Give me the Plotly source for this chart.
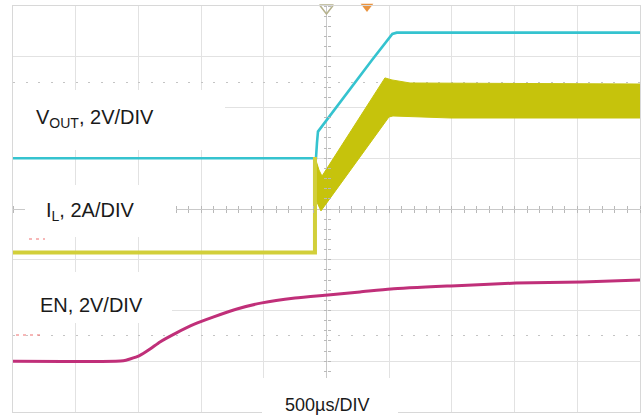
import plotly.graph_objects as go

# ---------------- data (time in microseconds, 500 us/div) ----------------
# V_OUT (V), 2 V/div
t_vout = [-2500, -84, -76, -68, 363, 500, 525, 560, 2500]
vout_v = [0, 0, 0.6, 1.05, 3.87, 4.77, 4.90, 4.95, 4.95]

# I_L (A), 2 A/div : baseline + start spike
t_il_base = [-2500, -92, -92]
il_base_a = [0, 0, 3.76]
# I_L switching ripple envelope
band_upper_t = [-92, -60, -36, 466, 522, 666, 2500]
band_upper_a = [3.76, 3.25, 3.01, 6.88, 6.80, 6.68, 6.64]
band_lower_t = [-84, -44, 498, 530, 993, 2500]
band_lower_a = [2.07, 1.64, 5.34, 5.38, 5.30, 5.30]

# EN (V), 2 V/div
t_en = [-2500, -1680, -1620, -1567, -1495, -1407, -1328, -1200, -1049, -905, -714, -514,
        -251, 12, 267, 514, 993, 1511, 2038, 2500]
en_v = [0, 0, 0.02, 0.09, 0.21, 0.48, 0.76, 1.11, 1.47, 1.74, 2.06, 2.30,
        2.49, 2.61, 2.73, 2.85, 2.97, 3.08, 3.12, 3.20]

# channel settings (divisions of the zero level, volts/amps per div)
vout_zero_div, vout_scale = 1.0, 2.0
il_zero_div, il_scale = -0.857, 2.0
en_zero_div, en_scale = -3.0, 2.0

# scope indicator markers
trig_pos_t = [0]
trig_marker_t = [323]
trig_level_div = [2.9]

W, H = 643, 416
ML, MR, MT, MB = 13, 3, 6, 4
NX, NY = 10, 4

def ch_range(zero_div, scale):
    return [(-NY - zero_div) * scale, (NY - zero_div) * scale]

grid_col = "#e2e2e2"
center_col = "#c9c9c9"
tick_col = "#b9b9b9"

fig = go.Figure()

CYAN = "#35c3cf"
YEL_BAND = "#c6c30c"
YEL_LINE = "#d2cf3a"
MAG = "#c02f79"

fig.add_trace(go.Scatter(
    x=band_upper_t + band_lower_t[::-1], y=band_upper_a + band_lower_a[::-1],
    yaxis="y3", mode="lines", fill="toself", fillcolor=YEL_BAND,
    line=dict(color=YEL_BAND, width=1), hoverinfo="skip"))
fig.add_trace(go.Scatter(x=t_il_base, y=il_base_a, yaxis="y3", mode="lines",
                         line=dict(color=YEL_LINE, width=4)))
fig.add_trace(go.Scatter(x=t_vout, y=vout_v, yaxis="y2", mode="lines",
                         line=dict(color=CYAN, width=2.6)))
fig.add_trace(go.Scatter(x=t_en, y=en_v, yaxis="y4", mode="lines",
                         line=dict(color=MAG, width=3, shape="spline", smoothing=0.6)))

# channel ground markers on left edge
for yax, col in (("y2", "#e0383c"), ("y3", "#4050c0"), ("y4", "#30c0a0")):
    fig.add_trace(go.Scatter(x=[-2545], y=[0], yaxis=yax, mode="markers",
                             marker=dict(symbol="triangle-right", size=6, color=col),
                             cliponaxis=False))

# top markers
fig.add_trace(go.Scatter(x=trig_pos_t, y=[3.96], mode="markers", cliponaxis=False,
                         marker=dict(symbol="triangle-down-open", size=12,
                                     color="#b5b18c", line=dict(width=1.5, color="#b5b18c"))))
fig.add_trace(go.Scatter(x=trig_marker_t, y=[3.99], mode="markers", cliponaxis=False,
                         marker=dict(symbol="triangle-down", size=11, color="#ea9440")))
fig.add_trace(go.Scatter(x=[2512], y=trig_level_div, mode="markers", cliponaxis=False,
                         marker=dict(symbol="diamond", size=15, color="#e1222c")))

fig.update_layout(
    width=W, height=H, margin=dict(l=ML, r=MR, t=MT, b=MB),
    paper_bgcolor="white", plot_bgcolor="white", showlegend=False, hovermode=False,
    xaxis=dict(range=[-2500, 2500], dtick=500, tick0=0, showgrid=True, gridcolor=grid_col,
               gridwidth=1, zeroline=True, zerolinecolor=center_col, zerolinewidth=1,
               showticklabels=False, ticks="", showline=True, linecolor="#d8d8d8",
               mirror=True, fixedrange=True),
    yaxis=dict(range=[-NY, NY], dtick=1, tick0=0, showgrid=True, gridcolor=grid_col,
               gridwidth=1, zeroline=True, zerolinecolor=center_col, zerolinewidth=1,
               showticklabels=False, ticks="", showline=True, linecolor="#d8d8d8",
               mirror=True),
    yaxis2=dict(overlaying="y", range=ch_range(vout_zero_div, vout_scale), visible=False),
    yaxis3=dict(overlaying="y", range=ch_range(il_zero_div, il_scale), visible=False),
    yaxis4=dict(overlaying="y", range=ch_range(en_zero_div, en_scale), visible=False),
    yaxis5=dict(overlaying="y", anchor="free", position=0.5, side="left", range=[-NY, NY],
                dtick=0.2, tick0=0, ticks="outside", ticklen=3, tickcolor=tick_col,
                showgrid=False, zeroline=False, showticklabels=False, showline=False),
    yaxis6=dict(overlaying="y", anchor="free", position=0.5, side="right", range=[-NY, NY],
                dtick=0.2, tick0=0, ticks="outside", ticklen=3, tickcolor=tick_col,
                showgrid=False, zeroline=False, showticklabels=False, showline=False),
    yaxis7=dict(overlaying="y", range=[-NY, NY], tickvals=[-2.5, 2.5], showgrid=True,
                gridcolor="#c4c4c4", griddash="2px,10.5px", zeroline=False,
                showticklabels=False, ticks=""),
    xaxis2=dict(overlaying="x", anchor="free", position=0.5, side="bottom", range=[-2500, 2500],
                dtick=100, tick0=0, ticks="outside", ticklen=3, tickcolor=tick_col,
                showgrid=False, zeroline=False, showticklabels=False, showline=False),
    xaxis3=dict(overlaying="x", anchor="free", position=0.5, side="top", range=[-2500, 2500],
                dtick=100, tick0=0, ticks="outside", ticklen=3, tickcolor=tick_col,
                showgrid=False, zeroline=False, showticklabels=False, showline=False),
)

# dummy traces to make tick axes render
fig.add_trace(go.Scatter(x=[None], y=[None], xaxis="x2", yaxis="y5", showlegend=False))
fig.add_trace(go.Scatter(x=[None], y=[None], xaxis="x3", yaxis="y6", showlegend=False))
fig.add_trace(go.Scatter(x=[None], y=[None], yaxis="y7", showlegend=False))

def px_x(p):
    return (p - ML) / (W - ML - MR)

def px_y(p):
    return 1 - (p - MT) / (H - MT - MB)

# white label boxes (pixel boxes converted to paper)
boxes = [(13, 90, 225, 150), (25, 185, 176, 237), (13, 272, 172, 323), (262, 378, 398, 420)]
shapes = []
for x0, y0, x1, y1 in boxes:
    shapes.append(dict(type="rect", xref="paper", yref="paper", x0=px_x(x0), x1=px_x(x1),
                       y0=px_y(y1), y1=px_y(y0), fillcolor="white", line=dict(width=0),
                       layer="above"))
# small red reference dashes
for x0, x1, yy in ((29, 45, 239), (16, 41, 335)):
    shapes.append(dict(type="line", xref="paper", yref="paper", x0=px_x(x0), x1=px_x(x1),
                       y0=px_y(yy), y1=px_y(yy), line=dict(color="#f07070", width=1.2, dash="3px,4px"),
                       layer="above"))
fig.update_layout(shapes=shapes)

FONT = "Liberation Sans, Arial, sans-serif"
labels = [
    ("V<sub>OUT</sub>, 2V/DIV", 34, 118, 20),
    ("I<sub>L</sub>, 2A/DIV", 44, 211, 20),
    ("EN, 2V/DIV", 38, 305, 20),
]
ann = []
for txt, x, y, s in labels:
    ann.append(dict(text=txt, xref="paper", yref="paper", x=px_x(x), y=px_y(y),
                    xanchor="left", yanchor="middle", showarrow=False,
                    font=dict(family=FONT, size=s, color="#1a1a1a")))
ann.append(dict(text="500µs/DIV", xref="paper", yref="paper", x=px_x(327), y=px_y(405),
                xanchor="center", yanchor="middle", showarrow=False,
                font=dict(family=FONT, size=18, color="#1a1a1a")))
fig.update_layout(annotations=ann)

fig.write_html("out.html", config={"displayModeBar": False, "staticPlot": True},
               post_script="document.body.style.margin='0px';document.body.style.overflow='hidden';")
